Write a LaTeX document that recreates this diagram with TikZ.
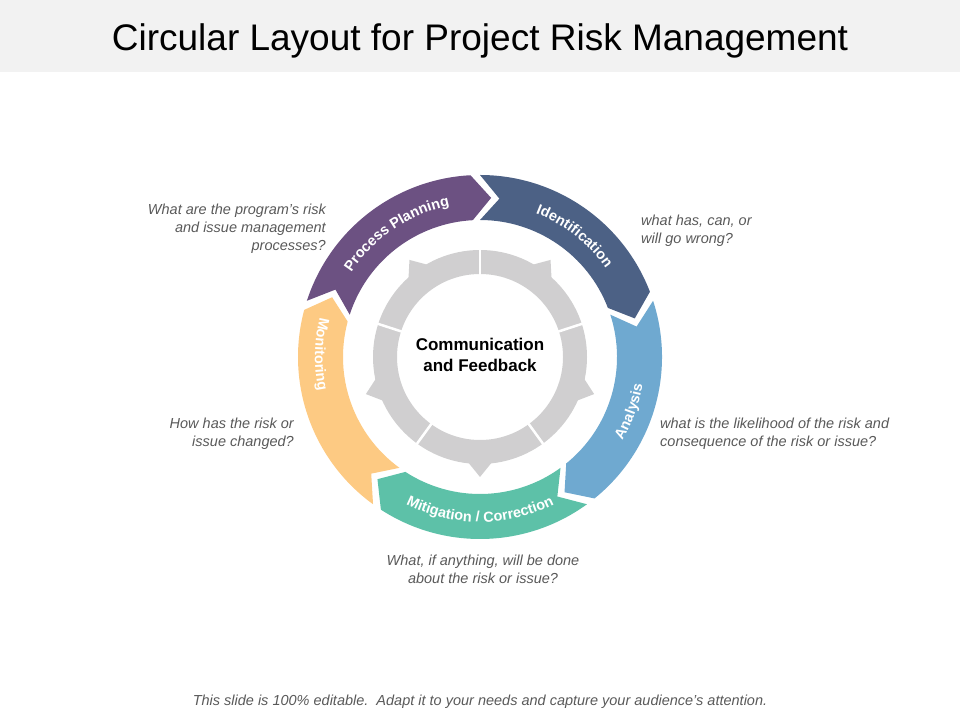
\documentclass[tikz,border=0pt]{standalone}
\usepackage{fontspec}
\setmainfont{Liberation Sans}
\usetikzlibrary{decorations.text}
\definecolor{plan}{HTML}{6C5182}
\definecolor{ident}{HTML}{4C6185}
\definecolor{anal}{HTML}{6FA9D0}
\definecolor{mitig}{HTML}{5DC1A8}
\definecolor{monit}{HTML}{FDCA83}
\definecolor{ringgray}{HTML}{D0CFD0}
\definecolor{txtgray}{HTML}{595959}
\tikzset{
  note/.style={font=\fontsize{14.5}{18}\selectfont\itshape, text=txtgray, inner sep=0pt},
  seglabel/.style={decorate, decoration={text along path, text align=center, text color=white, text={|\fontsize{14.5}{15}\selectfont\bfseries|#1}}}
}
\begin{document}
\begin{tikzpicture}[x=1pt,y=1pt]
\useasboundingbox (0,0) rectangle (960,720);
\fill[gray!10] (0,648) rectangle (960,720);
\node (title) at (480,679) {\fontsize{37}{44}\selectfont Circular Layout for Project Risk Management};

\begin{scope}[shift={(480,363)}]
  % outer arrows: start angle / colour
  \foreach \s/\col in {162/plan, 90/ident, 18/anal, -54/mitig, -126/monit}{
    \pgfmathsetmacro\e{\s-69}
    \pgfmathsetmacro\tp{\e-7}
    \pgfmathsetmacro\np{\s-7}
    \fill[\col] (\s:182) arc[start angle=\s, end angle=\e, radius=182]
      -- (\tp:159.5) -- (\e:137) arc[start angle=\e, end angle=\s, radius=137]
      -- (\np:159.5) -- cycle;
  }
  % labels on the arrows
  \path[seglabel=Process Planning] (156:154) arc[start angle=156, end angle=92, radius=154];
  \path[seglabel=Identification] (84:154) arc[start angle=84, end angle=20, radius=154];
  \path[seglabel=Analysis] (-50:165) arc[start angle=-50, end angle=10, radius=165];
  \path[seglabel=Mitigation / Correction] (-127:165) arc[start angle=-127, end angle=-53, radius=165];
  \path[seglabel=Monitoring] (146:165) arc[start angle=146, end angle=212, radius=165];

  % inner ring
  \fill[ringgray, even odd rule] (0,0) circle (107) (0,0) circle (83);
  \foreach \t in {-90,-18,54,126,198}
    \fill[ringgray] (\t+7:105) -- (\t:120) -- (\t-7:105) -- cycle;
  \foreach \g in {90,18,-54,-126,162}
    \draw[white, line width=2.5] (\g:82) -- (\g:108);
  \node[align=center, font=\fontsize{17}{21}\selectfont\bfseries] (comm) at (0,2) {Communication\\and Feedback};
\end{scope}

\node[note, align=right, anchor=east] (qplan) at (326,491) {What are the program’s risk\\and issue management\\processes?};
\node[note, align=left, anchor=west] (qident) at (641,489) {what has, can, or\\will go wrong?};
\node[note, align=left, anchor=west] (qanal) at (660,286) {what is the likelihood of the risk and\\consequence of the risk or issue?};
\node[note, align=right, anchor=east] (qmonit) at (294,286) {How has the risk or\\issue changed?};
\node[note, align=center] (qmitig) at (483,151) {What, if anything, will be done\\about the risk or issue?};
\node[note, font=\fontsize{14.5}{17}\selectfont\itshape] (foot) at (480,18) {This slide is 100\% editable.\ \ Adapt it to your needs and capture your audience's attention.};
\end{tikzpicture}
\end{document}
